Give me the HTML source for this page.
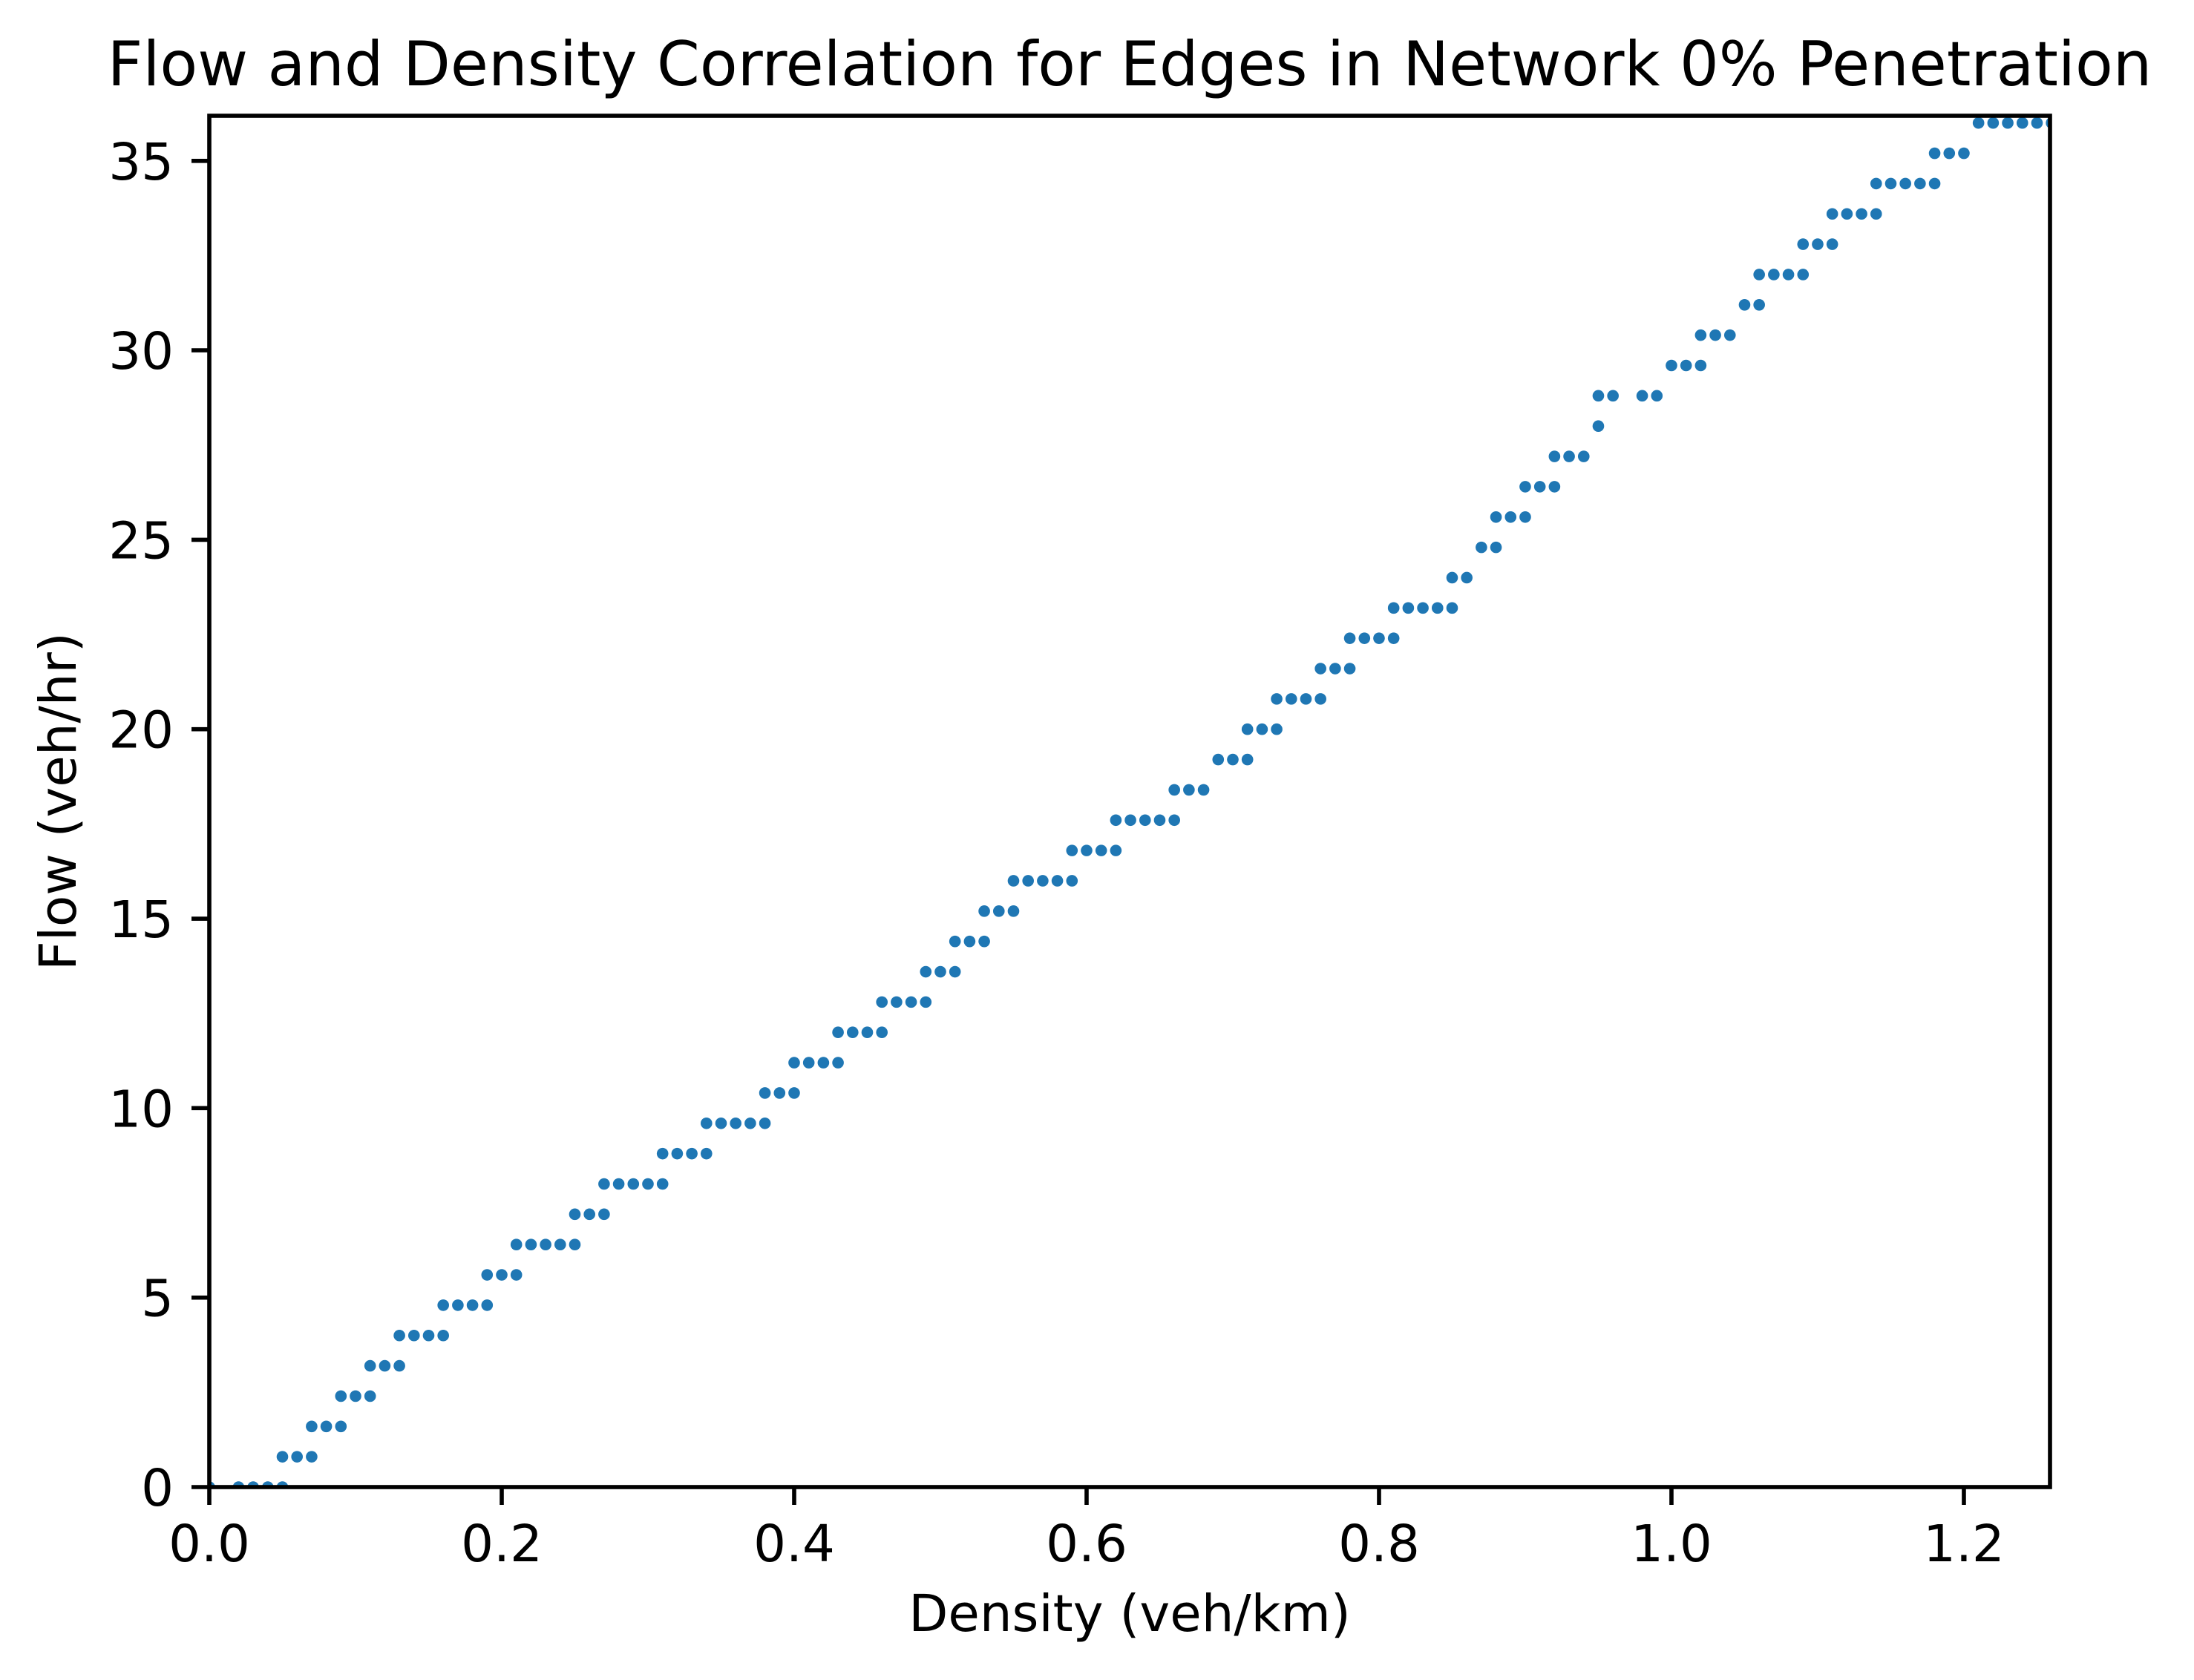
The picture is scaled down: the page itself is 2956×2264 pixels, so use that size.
<!DOCTYPE html>
<html><head><meta charset="utf-8"><style>
html,body{margin:0;padding:0;background:#fff;}
svg{display:block;font-family:"DejaVu Sans","Liberation Sans",sans-serif;}
</style></head><body>
<svg id="chart" width="2956" height="2264" viewBox="0 0 2956 2264" xmlns="http://www.w3.org/2000/svg">
<rect width="2956" height="2264" fill="#fff"/>
<defs><clipPath id="plotclip"><rect x="282" y="156" width="2480" height="1848"/></clipPath></defs>
<text x="1522" y="115" font-size="83" text-anchor="middle">Flow and Density Correlation for Edges in Network 0% Penetration</text>
<g id="points" clip-path="url(#plotclip)"></g>
<g id="axes"></g>
<text x="1522" y="2198" font-size="69" text-anchor="middle">Density (veh/km)</text>
<text x="0" y="0" font-size="69" text-anchor="middle" transform="translate(102,1080) rotate(-90)">Flow (veh/hr)</text>
</svg>
<script>
const flowLevels = [0,0.8,1.6,2.4,3.2,4.0,4.8,5.6,6.4,7.2,8.0,8.8,9.6,10.4,11.2,12.0,12.8,13.6,14.4,15.2,16.0,16.8,17.6,18.4,19.2,20.0,20.8,21.6,22.4,23.2,24.0,24.8,25.6,26.4,27.2,28.0,28.8,29.6,30.4,31.2,32.0,32.8,33.6,34.4,35.2,36.0];
const densityGroups = [
 [0,0.02,0.03,0.04,0.05],[0.05,0.06,0.07],[0.07,0.08,0.09],[0.09,0.10,0.11],[0.11,0.12,0.13],
 [0.13,0.14,0.15,0.16],[0.16,0.17,0.18,0.19],[0.19,0.20,0.21],[0.21,0.22,0.23,0.24,0.25],[0.25,0.26,0.27],
 [0.27,0.28,0.29,0.30,0.31],[0.31,0.32,0.33,0.34],[0.34,0.35,0.36,0.37,0.38],[0.38,0.39,0.40],[0.40,0.41,0.42,0.43],
 [0.43,0.44,0.45,0.46],[0.46,0.47,0.48,0.49],[0.49,0.50,0.51],[0.51,0.52,0.53],[0.53,0.54,0.55],
 [0.55,0.56,0.57,0.58,0.59],[0.59,0.60,0.61,0.62],[0.62,0.63,0.64,0.65,0.66],[0.66,0.67,0.68],[0.69,0.70,0.71],
 [0.71,0.72,0.73],[0.73,0.74,0.75,0.76],[0.76,0.77,0.78],[0.78,0.79,0.80,0.81],[0.81,0.82,0.83,0.84,0.85],
 [0.85,0.86],[0.87,0.88],[0.88,0.89,0.90],[0.90,0.91,0.92],[0.92,0.93,0.94],
 [0.95],[0.95,0.96,0.98,0.99],[1.00,1.01,1.02],[1.02,1.03,1.04],[1.05,1.06],
 [1.06,1.07,1.08,1.09],[1.09,1.10,1.11],[1.11,1.12,1.13,1.14],[1.14,1.15,1.16,1.17,1.18],[1.18,1.19,1.20],
 [1.21,1.22,1.23,1.24,1.25,1.26]
];
const xTicks = [0.0,0.2,0.4,0.6,0.8,1.0,1.2];
const xTickLabels = ["0.0","0.2","0.4","0.6","0.8","1.0","1.2"];
const yTicks = [0,5,10,15,20,25,30,35];
const yTickLabels = ["0","5","10","15","20","25","30","35"];

const NS = "http://www.w3.org/2000/svg";
const L = 282, R = 2762, T = 156, B = 2004;
const xMax = 1.2589, yMax = 36.19;
function xs(v){ return L + v / xMax * (R - L); }
function ys(v){ return B - v / yMax * (B - T); }
function mk(tag, attrs){ const e = document.createElementNS(NS, tag); for (const k in attrs) e.setAttribute(k, attrs[k]); return e; }

const pg = document.getElementById('points');
flowLevels.forEach((f, i) => {
  densityGroups[i].forEach((d, j) => {
    const c = mk('circle', {cx: xs(d), cy: ys(f), r: 7.8, fill: '#1f77b4'});
    
    
    pg.appendChild(c);
  });
});

const ag = document.getElementById('axes');
xTicks.forEach((t, i) => {
  const x = xs(t);
  const tk = mk('line', {x1: x, x2: x, y1: B, y2: B + 24, stroke: '#000', 'stroke-width': 5.6});
  
  
  ag.appendChild(tk);
  const tx = mk('text', {x: x, y: 2104, 'font-size': 69, 'text-anchor': 'middle'});
  
  
  tx.textContent = xTickLabels[i];
  ag.appendChild(tx);
});
yTicks.forEach((t, i) => {
  const y = ys(t);
  const tk = mk('line', {x1: L - 24, x2: L, y1: y, y2: y, stroke: '#000', 'stroke-width': 5.6});
  
  
  ag.appendChild(tk);
  const tx = mk('text', {x: 234, y: y + 25, 'font-size': 69, 'text-anchor': 'end'});
  
  
  tx.textContent = yTickLabels[i];
  ag.appendChild(tx);
});
const frame = mk('rect', {x: L, y: T, width: R - L, height: B - T, fill: 'none', stroke: '#000', 'stroke-width': 5.6});


ag.appendChild(frame);
</script>
</body></html>
